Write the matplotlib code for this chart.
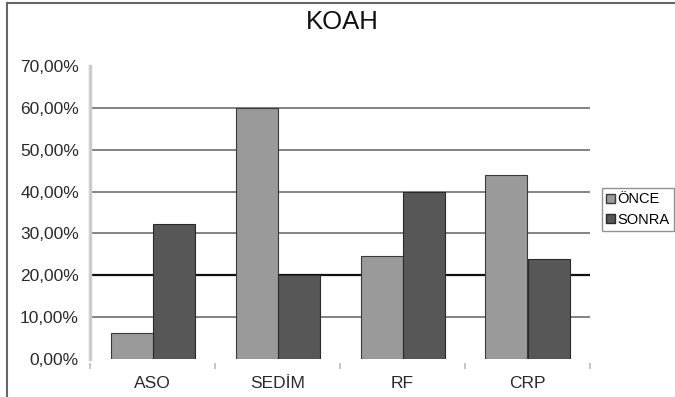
import matplotlib
matplotlib.use("Agg")
import matplotlib.pyplot as plt
import matplotlib.patches as patches
from matplotlib.lines import Line2D
import numpy as np

plt.rcParams["font.family"] = ["Liberation Sans", "DejaVu Sans"]

# --- Donnees ---
categories = ["ASO", "SEDİM", "RF", "CRP"]
once = [6.25, 60.0, 24.6, 44.0]
sonra = [32.3, 20.0, 40.0, 24.0]
yticks = [0, 10, 20, 30, 40, 50, 60, 70]
ytick_labels = ["0,00%", "10,00%", "20,00%", "30,00%", "40,00%", "50,00%", "60,00%", "70,00%"]

W, H = 675, 397
fig = plt.figure(figsize=(W / 100, H / 100), dpi=100)
fig.patch.set_facecolor("white")

# axes en pixels : gauche 90, droite 590, bas 359, haut 66
ax = fig.add_axes([90 / W, (H - 359) / H, 500 / W, (359 - 66) / H])
ax.set_xlim(-0.5, len(categories) - 0.5)
ax.set_ylim(0, 70)

x = np.arange(len(categories))
bw = 0.336
ax.bar(x - bw / 2, once, bw, color="#9a9a9a", edgecolor="#3a3a3a", linewidth=0.8, zorder=3, label="ÖNCE")
ax.bar(x + bw / 2, sonra, bw, color="#575757", edgecolor="#2a2a2a", linewidth=0.8, zorder=3, label="SONRA")

# grille
for v in yticks[1:-1]:
    if v == 20:
        ax.axhline(v, color="#111111", lw=1.6, zorder=1)
    else:
        ax.axhline(v, color="#6e6e6e", lw=1.2, zorder=1)

ax.set_yticks(yticks)
ax.set_yticklabels(ytick_labels)
ax.tick_params(axis="y", length=0, pad=8, labelsize=12.5, labelcolor="#2a2a2a")

ax.set_xticks(x)
ax.set_xticks(np.arange(-0.5, len(categories)), minor=True)
ax.set_xticklabels(categories)
ax.tick_params(axis="x", which="major", length=0, pad=9, labelsize=12.5, labelcolor="#2a2a2a")
ax.tick_params(axis="x", which="minor", length=4, width=1.2, color="#bbbbbb", pad=0, direction="out")

for s in ["top", "right", "bottom"]:
    ax.spines[s].set_visible(False)
ax.spines["left"].set_color("#cccccc")
ax.spines["left"].set_linewidth(2.5)
ax.spines["bottom"].set_position(("outward", 3))

# titre
fig.text(342 / W, 1 - 22 / H, "KOAH", ha="center", va="center", fontsize=18.5, color="#111111")

# legende
handles = [patches.Patch(facecolor="#9a9a9a", edgecolor="#3a3a3a", label="ÖNCE"),
           patches.Patch(facecolor="#575757", edgecolor="#2a2a2a", label="SONRA")]
leg = fig.legend(handles=handles, loc="upper left", bbox_to_anchor=(602 / W, 1 - 188 / H),
                 fontsize=10.5, frameon=True, fancybox=False, handlelength=0.6, handleheight=0.6,
                 handletextpad=0.15, borderpad=0.3, labelspacing=0.45, borderaxespad=0)
leg.get_frame().set_edgecolor("#777777")
leg.get_frame().set_linewidth(1.0)

# cadre exterieur (haut et gauche)
fig.add_artist(Line2D([7 / W, 1], [1 - 3 / H, 1 - 3 / H], color="#666666", lw=1.5))
fig.add_artist(Line2D([7 / W, 7 / W], [0, 1 - 3 / H], color="#666666", lw=1.5))

fig.savefig("out.png", dpi=100, facecolor="white")
